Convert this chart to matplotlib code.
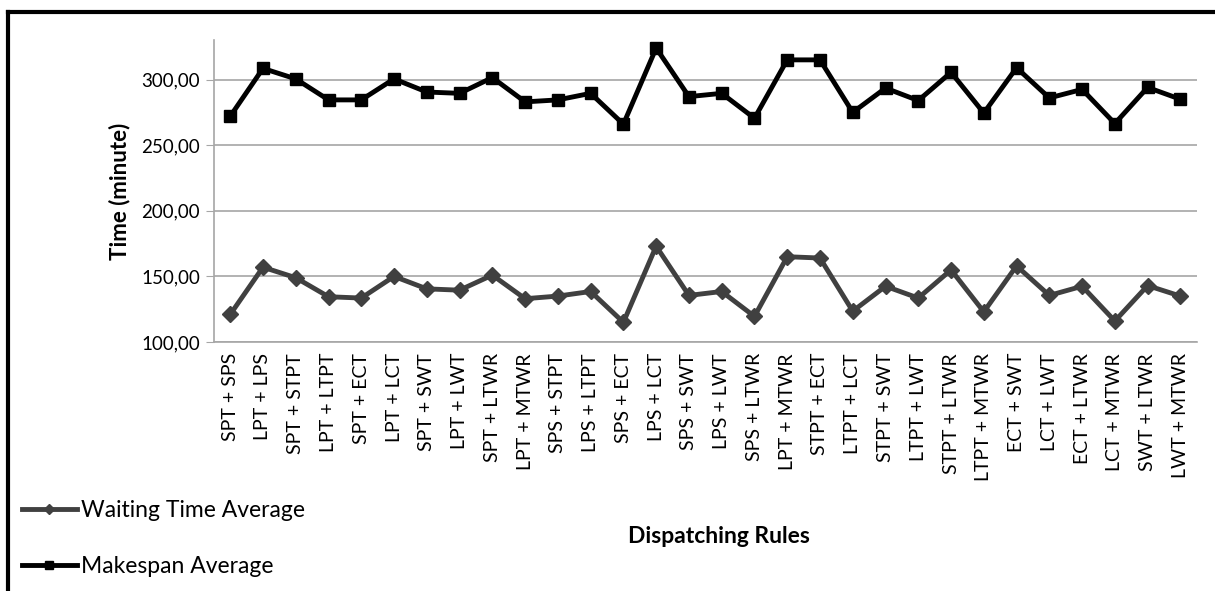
import matplotlib
matplotlib.use('Agg')
import matplotlib.pyplot as plt
from matplotlib.lines import Line2D
from matplotlib.ticker import FuncFormatter

plt.rcParams['font.family'] = ['Lato', 'DejaVu Sans']

rules = ['SPT + SPS', 'LPT + LPS', 'SPT + STPT', 'LPT + LTPT', 'SPT + ECT', 'LPT + LCT',
         'SPT + SWT', 'LPT + LWT', 'SPT + LTWR', 'LPT + MTWR', 'SPS + STPT', 'LPS + LTPT',
         'SPS + ECT', 'LPS + LCT', 'SPS + SWT', 'LPS + LWT', 'SPS + LTWR', 'LPT + MTWR',
         'STPT + ECT', 'LTPT + LCT', 'STPT + SWT', 'LTPT + LWT', 'STPT + LTWR', 'LTPT + MTWR',
         'ECT + SWT', 'LCT + LWT', 'ECT + LTWR', 'LCT + MTWR', 'SWT + LTWR', 'LWT + MTWR']

waiting = [121, 157, 149, 134.5, 133.5, 150, 140.5, 139.5, 151, 133, 135, 138.5,
           115, 173, 135.5, 138.5, 119.5, 165, 164, 123.5, 142.5, 133.5, 155, 123,
           158, 135.5, 142.5, 116, 143, 135]

makespan = [272, 308.5, 300.5, 284.5, 284.5, 300.5, 290.5, 289.5, 301.5, 283, 284.5, 289.5,
            266, 324, 287, 289.5, 270.5, 315, 315, 275, 293.5, 284, 305.5, 274.5,
            309, 286, 292.5, 266.5, 294, 285]

fig = plt.figure(figsize=(12.15, 5.91), dpi=100)
ax = fig.add_axes([0.176, 0.4213, 0.809, 0.5107])

x = list(range(len(rules)))
l1, = ax.plot(x, waiting, color='#404040', lw=3.5, marker='D', ms=8, label='Waiting Time Average')
l2, = ax.plot(x, makespan, color='black', lw=3.5, marker='s', ms=9, label='Makespan Average')

ax.set_xlim(-0.5, len(rules) - 0.5)
ax.set_ylim(100, 330)
ax.set_yticks([100, 150, 200, 250, 300])
ax.yaxis.set_major_formatter(FuncFormatter(lambda v, p: ('%.2f' % v).replace('.', ',')))
ax.grid(axis='y', color='#a6a6a6', lw=1.2)
ax.set_axisbelow(True)
for s in ['top', 'right']:
    ax.spines[s].set_visible(False)
for s in ['bottom', 'left']:
    ax.spines[s].set_color('#a6a6a6')
    ax.spines[s].set_linewidth(1.2)
ax.tick_params(axis='y', length=6, color='#a6a6a6', labelsize=13.5, pad=4)
ax.tick_params(axis='x', length=0, labelsize=14, pad=8)
ax.set_xticks(x)
ax.set_xticklabels(rules, rotation=90)

ax.set_ylabel('Time (minute)', fontsize=16, fontweight='bold', labelpad=8)
fig.text(0.592, 0.0914, 'Dispatching Rules', fontsize=16.5, fontweight='bold', ha='center', va='center')

fig.legend(handles=[l1, l2], loc='center left', bbox_to_anchor=(0.018, 0.0888), frameon=False,
           fontsize=16.5, labelspacing=1.5, handlelength=2.4, handletextpad=0.2, markerscale=0.6,
           borderaxespad=0, borderpad=0)

# outer frame (top and left edges visible)
fig.add_artist(Line2D([8 / 1215, 8 / 1215], [0, 1 - 12 / 591], color='black', lw=3, transform=fig.transFigure))
fig.add_artist(Line2D([8 / 1215, 1], [1 - 12 / 591, 1 - 12 / 591], color='black', lw=3, transform=fig.transFigure))

fig.savefig('out.png', dpi=100)
